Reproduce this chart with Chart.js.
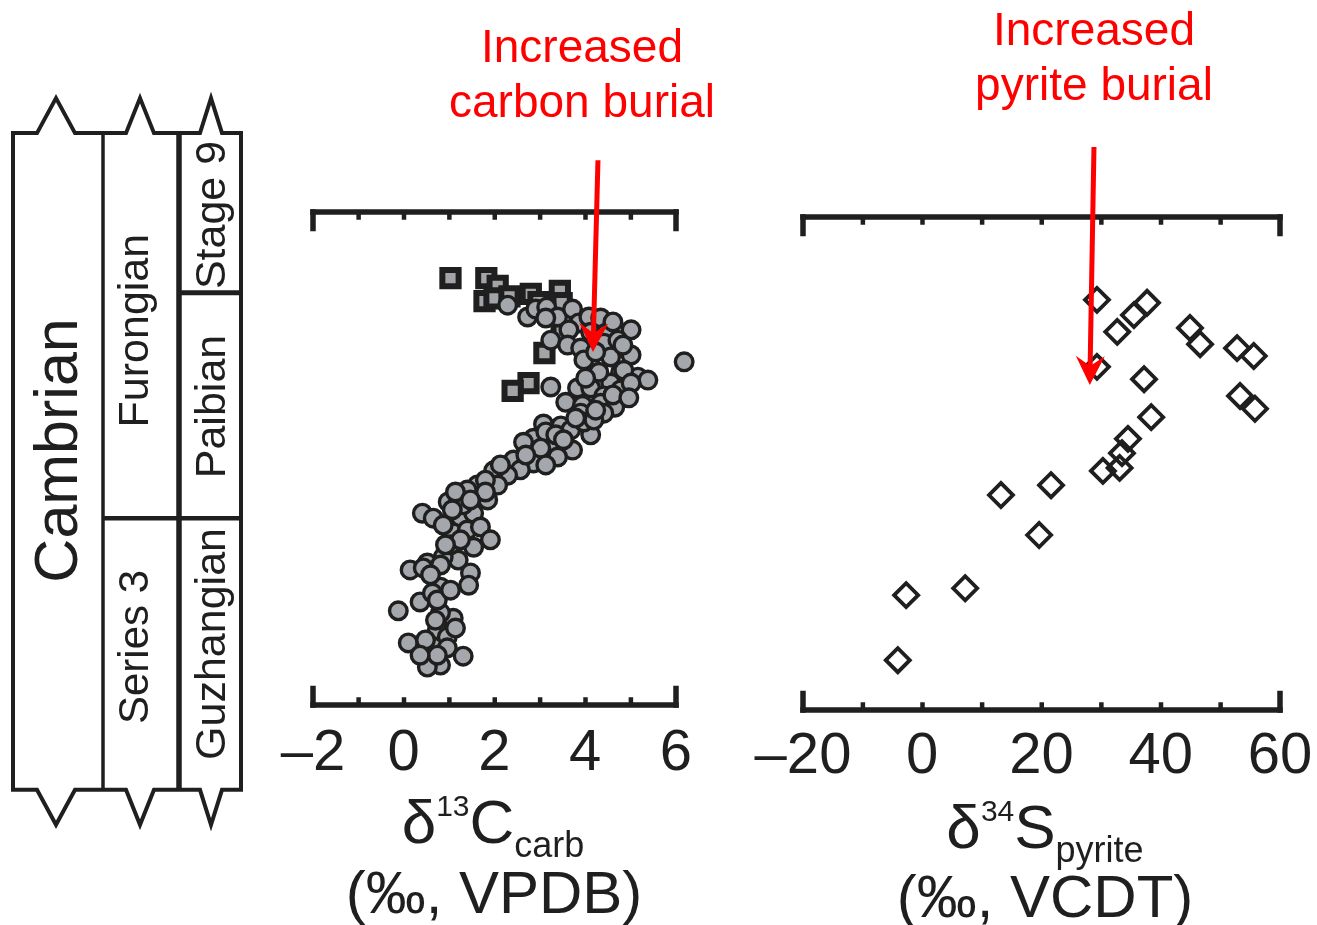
<!DOCTYPE html>
<html>
<head>
<meta charset="utf-8">
<title>Cambrian δ13C and δ34S</title>
<script src="https://cdn.jsdelivr.net/npm/chart.js@4.4.0/dist/chart.umd.min.js"></script>
<style>
  html, body { margin: 0; padding: 0; background: #ffffff; }
  #wrap { position: relative; width: 1317px; height: 925px; overflow: hidden; background: #ffffff; }
  #wrap canvas { position: absolute; left: 0; top: 0; }
</style>
</head>
<body>
<div id="wrap">
  <canvas id="carbonChart" width="1317" height="925"></canvas>
  <canvas id="sulfurChart" width="1317" height="925"></canvas>
</div>
<script>
// ---- Data (stratigraphic level: 0 = base of plotted section, 100 = top of plotted section) ----

// δ13C carbonate, circles
const carbonX = [2.29,2.73,2.91,3.15,3.39,3.72,3.86,4.08,4.34,5.01,
                 4.12,4.45,3.64,3.24,3.61,3.90,4.41,4.72,5.01,4.56,
                 3.97,4.23,6.18,4.78,4.56,5.16,5.38,4.85,3.24,3.83,
                 4.12,4.41,4.78,5.01,3.57,3.94,4.34,4.65,3.90,4.41,
                 3.08,3.46,3.68,4.12,3.97,4.19,2.86,2.64,3.35,3.72,
                 2.95,3.39,2.42,2.86,2.57,2.29,1.98,1.62,1.40,2.07,
                 1.85,0.98,0.41,0.65,1.25,1.54,1.09,1.40,1.69,1.91,
                 1.54,1.20,0.87,0.52,0.14,0.43,0.81,1.47,1.43,0.81,
                 0.36,0.63,1.09,0.81,-0.12,0.74,0.96,0.10,0.65,0.96,
                 1.31,0.59,0.81,0.52,0.74,1.03,1.31,1.14,1.80,3.13,
                 3.13,4.61,4.83,4.30,4.01,4.61,4.96,4.23,3.79,3.35,
                 3.02,3.52,3.13,2.69,2.13,1.80,1.47,1.07,0.87,1.25,
                 0.92,0.59,1.03,0.70,0.48,1.14,0.74,0.36];
const carbonY = [81.1,78.7,80.3,80.7,78.7,80.3,77.5,78.7,78.5,76.1,
                 75.6,75.4,76.1,74.0,73.0,72.4,73.4,74.0,71.0,70.6,
                 70.0,71.6,69.6,67.5,65.3,66.5,65.9,67.9,64.5,64.3,
                 64.3,62.7,63.9,65.3,61.4,60.8,61.2,60.4,59.2,59.2,
                 57.0,56.6,55.8,54.8,57.4,57.8,54.1,53.3,52.7,51.7,
                 49.7,50.3,49.7,49.1,47.7,46.6,47.5,44.6,43.6,44.6,
                 41.6,41.2,38.9,37.9,38.1,38.9,34.9,35.5,36.1,33.5,
                 32.0,29.4,30.0,28.8,27.4,27.8,28.4,26.8,24.3,23.9,
                 20.9,22.7,17.6,18.7,19.1,15.2,13.8,12.6,11.8,11.6,
                 9.9,9.1,8.1,7.7,21.3,32.5,40.6,43.2,45.6,55.4,
                 78.5,77.7,73.0,67.5,66.3,62.9,62.3,59.8,58.2,54.8,
                 52.1,53.8,48.7,50.7,48.7,43.2,41.6,39.6,36.5,33.5,
                 32.5,26.4,23.3,17.2,13.2,15.6,10.1,10.1];

// δ13C carbonate, squares (second section)
const carbonSqX = [1.03,1.82,2.07,1.78,2.00,2.33,2.80,2.97,3.44,3.48,3.48,3.10,2.75,2.40];
const carbonSqY = [86.6,86.6,85.0,81.9,82.5,82.9,83.4,81.7,84.0,81.5,75.6,71.4,65.3,63.7];

// δ34S pyrite, diamonds
const sulfurX = [29.3,32.7,35.5,37.7,44.9,46.6,52.8,55.6,29.3,37.2,53.3,55.8,
                 38.4,34.5,33.5,33.1,30.3,21.6,13.2,19.6,7.2,-2.7,-4.1];
const sulfurY = [83.2,76.7,80.1,82.6,77.5,74.2,73.4,71.8,69.6,67.1,63.7,61.1,
                 59.4,55.0,52.1,49.1,48.5,45.6,43.6,35.5,24.7,23.3,10.1];

// Axis tick labels
const carbonTicks = [-2, 0, 2, 4, 6];
const sulfurTicks = [-20, 0, 20, 40, 60];

// Chronostratigraphic boundaries on the same level scale
const systemTop = 116.0, systemBase = -17.2;
const stage9Base = 83.6;       // Stage 9 / Paibian
const furongianBase = 37.9;    // Furongian / Series 3, Paibian / Guzhangian

// Arrow annotations (value coordinates)
const carbonArrow = { x0: 4.28, y0: 110.5, x1: 4.17, y1: 71.6 };
const sulfurArrow = { x0: 28.8, y0: 114.2, x1: 28.1, y1: 65.9 };

// ---- Drawing helpers ----
const FONT = '"Liberation Sans", Arial, Helvetica, sans-serif';
const INK = '#1f1f1f';
const RED = '#ff0000';

Chart.defaults.font.family = FONT;

function fmtTick(v) {
  return v < 0 ? '\u2013' + Math.abs(v) : String(v);
}

function drawBracketAxes(chart, o) {
  const ctx = chart.ctx, x = chart.scales.x, a = chart.chartArea;
  const xl = x.getPixelForValue(x.min), xr = x.getPixelForValue(x.max);
  const lw = 5.5, yt = a.top, yb = a.bottom;
  ctx.save();
  ctx.fillStyle = INK;
  // top bracket, ticks pointing down
  ctx.fillRect(xl - lw / 2, yt - lw / 2, xr - xl + lw, lw);
  ctx.fillRect(xl - lw / 2, yt - lw / 2, lw, o.cap);
  ctx.fillRect(xr - lw / 2, yt - lw / 2, lw, o.cap);
  // bottom bracket, ticks pointing up
  ctx.fillRect(xl - lw / 2, yb - lw / 2, xr - xl + lw, lw);
  ctx.fillRect(xl - lw / 2, yb + lw / 2 - o.cap, lw, o.cap);
  ctx.fillRect(xr - lw / 2, yb + lw / 2 - o.cap, lw, o.cap);
  for (let v = x.min + o.minor; v < x.max - 1e-9; v += o.minor) {
    const px = x.getPixelForValue(v);
    ctx.fillRect(px - 2, yt, 4.5, lw / 2 + 5);
    ctx.fillRect(px - 2, yb - lw / 2 - 5, 4.5, lw / 2 + 5);
  }
  ctx.font = '58px ' + FONT;
  ctx.textAlign = 'center';
  ctx.textBaseline = 'alphabetic';
  o.ticks.forEach(v => ctx.fillText(fmtTick(v), x.getPixelForValue(v), yb + o.labelDy));
  ctx.restore();
}

function drawRich(ctx, parts, cx) {
  let total = 0;
  parts.forEach(p => {
    ctx.font = p.size + 'px ' + FONT;
    p.w = ctx.measureText(p.t).width;
    total += p.w + (p.gap || 0);
  });
  let x = cx - total / 2;
  ctx.textAlign = 'left';
  ctx.textBaseline = 'alphabetic';
  parts.forEach(p => {
    ctx.font = p.size + 'px ' + FONT;
    ctx.fillText(p.t, x, p.base);
    x += p.w + (p.gap || 0);
  });
}

function drawArrow(chart, arr) {
  const ctx = chart.ctx, sx = chart.scales.x, sy = chart.scales.y;
  const x0 = sx.getPixelForValue(arr.x0), y0 = sy.getPixelForValue(arr.y0);
  const x1 = sx.getPixelForValue(arr.x1), y1 = sy.getPixelForValue(arr.y1);
  const ang = Math.atan2(y1 - y0, x1 - x0);
  const ux = Math.cos(ang), uy = Math.sin(ang), nx = -uy, ny = ux;
  const L = 29, N = 19, W = 14.5;
  const bx = x1 - ux * N, by = y1 - uy * N;
  ctx.save();
  ctx.strokeStyle = RED;
  ctx.lineWidth = 5;
  ctx.beginPath();
  ctx.moveTo(x0, y0);
  ctx.lineTo(bx, by);
  ctx.stroke();
  ctx.fillStyle = RED;
  ctx.beginPath();
  ctx.moveTo(x1, y1);
  ctx.lineTo(x1 - ux * L + nx * W, y1 - uy * L + ny * W);
  ctx.lineTo(bx, by);
  ctx.lineTo(x1 - ux * L - nx * W, y1 - uy * L - ny * W);
  ctx.closePath();
  ctx.fill();
  ctx.restore();
}

function drawRedText(ctx, lines, cx) {
  ctx.save();
  ctx.fillStyle = RED;
  ctx.font = '46px ' + FONT;
  ctx.textAlign = 'center';
  ctx.textBaseline = 'alphabetic';
  lines.forEach(l => ctx.fillText(l.t, cx, l.base));
  ctx.restore();
}

// Stratigraphic column drawn against the carbon chart's level scale
function drawColumn(chart) {
  const ctx = chart.ctx, sy = chart.scales.y;
  const top = sy.getPixelForValue(systemTop);
  const bot = sy.getPixelForValue(systemBase);
  const yStage9 = sy.getPixelForValue(stage9Base);
  const yFur = sy.getPixelForValue(furongianBase);
  const L = 13, D1 = 103, D2 = 179, R = 241, H = 35;
  const hats = [[56, 19], [140, 14], [211, 11]];
  ctx.save();
  ctx.strokeStyle = INK;
  ctx.lineJoin = 'miter';
  ctx.lineWidth = 4;
  ctx.beginPath();
  ctx.moveTo(L, top);
  hats.forEach(([c, w]) => { ctx.lineTo(c - w, top); ctx.lineTo(c, top - H); ctx.lineTo(c + w, top); });
  ctx.lineTo(R, top);
  ctx.lineTo(R, bot);
  hats.slice().reverse().forEach(([c, w]) => { ctx.lineTo(c + w, bot); ctx.lineTo(c, bot + H); ctx.lineTo(c - w, bot); });
  ctx.lineTo(L, bot);
  ctx.closePath();
  ctx.stroke();

  ctx.lineWidth = 3.5;
  ctx.beginPath(); ctx.moveTo(D1, top); ctx.lineTo(D1, bot); ctx.stroke();
  ctx.lineWidth = 5.5;
  ctx.beginPath(); ctx.moveTo(D2, top); ctx.lineTo(D2, bot); ctx.stroke();
  ctx.lineWidth = 4.5;
  ctx.beginPath(); ctx.moveTo(D1, yFur); ctx.lineTo(R, yFur); ctx.stroke();
  ctx.lineWidth = 5;
  ctx.beginPath(); ctx.moveTo(D2, yStage9); ctx.lineTo(R, yStage9); ctx.stroke();

  const label = (t, size, baseX, cy) => {
    ctx.save();
    ctx.translate(baseX, cy);
    ctx.rotate(-Math.PI / 2);
    ctx.font = size + 'px ' + FONT;
    ctx.fillStyle = INK;
    ctx.textAlign = 'center';
    ctx.textBaseline = 'alphabetic';
    ctx.fillText(t, 0, 0);
    ctx.restore();
  };
  label('Cambrian', 61, 77, (top + bot) / 2 - 11);
  label('Furongian', 43, 148, (top + yFur) / 2 + 5);
  label('Series 3', 42, 148, (yFur + bot) / 2 - 7);
  label('Stage 9', 43, 225, (top + yStage9) / 2 + 2);
  label('Paibian', 43, 225, (yStage9 + yFur) / 2 + 1);
  label('Guzhangian', 43, 225, (yFur + bot) / 2 - 10);
  ctx.restore();
}

const carbonDecor = {
  id: 'carbonDecor',
  afterDraw(chart) {
    const ctx = chart.ctx;
    drawColumn(chart);
    drawBracketAxes(chart, { cap: 22, minor: 1, ticks: carbonTicks, labelDy: 65 });
    ctx.save();
    ctx.fillStyle = INK;
    drawRich(ctx, [
      { t: '\u03b4', size: 62, base: 843 },
      { t: '13', size: 30, base: 816 },
      { t: 'C', size: 62, base: 843 },
      { t: 'carb', size: 36, base: 857 }
    ], 493);
    drawRich(ctx, [{ t: '(\u2030, VPDB)', size: 60, base: 913 }], 494);
    ctx.restore();
    drawRedText(ctx, [{ t: 'Increased', base: 62 }, { t: 'carbon burial', base: 117 }], 582);
    drawArrow(chart, carbonArrow);
  }
};

const sulfurDecor = {
  id: 'sulfurDecor',
  afterDraw(chart) {
    const ctx = chart.ctx;
    drawBracketAxes(chart, { cap: 22, minor: 10, ticks: sulfurTicks, labelDy: 63 });
    ctx.save();
    ctx.fillStyle = INK;
    drawRich(ctx, [
      { t: '\u03b4', size: 62, base: 848 },
      { t: '34', size: 30, base: 821 },
      { t: 'S', size: 62, base: 848 },
      { t: 'pyrite', size: 36, base: 862 }
    ], 1045);
    drawRich(ctx, [{ t: '(\u2030, VCDT)', size: 60, base: 917 }], 1045);
    ctx.restore();
    drawRedText(ctx, [{ t: 'Increased', base: 45 }, { t: 'pyrite burial', base: 100 }], 1094);
    drawArrow(chart, sulfurArrow);
  }
};

const toPoints = (xs, ys) => xs.map((v, i) => ({ x: v, y: ys[i] }));

function baseOptions(pad, xMin, xMax) {
  return {
    responsive: false,
    animation: false,
    devicePixelRatio: 1,
    events: [],
    layout: { padding: pad },
    scales: {
      x: { type: 'linear', min: xMin, max: xMax, display: false },
      y: { type: 'linear', min: 0, max: 100, display: false }
    },
    plugins: { legend: { display: false }, tooltip: { enabled: false } }
  };
}

new Chart(document.getElementById('carbonChart'), {
  type: 'scatter',
  data: {
    datasets: [
      {
        label: 'δ13C carb (circles)',
        data: toPoints(carbonX, carbonY),
        pointStyle: 'circle',
        pointRadius: 8.8,
        pointBorderWidth: 3.4,
        backgroundColor: '#a4a7ab',
        borderColor: INK,
        clip: false
      },
      {
        label: 'δ13C carb (squares)',
        data: toPoints(carbonSqX, carbonSqY),
        pointStyle: 'rect',
        pointRadius: 11.5,
        pointBorderWidth: 6,
        backgroundColor: '#a2a4a8',
        borderColor: INK,
        clip: false
      }
    ]
  },
  options: baseOptions({ left: 313, right: 1317 - 676, top: 212, bottom: 925 - 705 }, -2, 6),
  plugins: [carbonDecor]
});

new Chart(document.getElementById('sulfurChart'), {
  type: 'scatter',
  data: {
    datasets: [
      {
        label: 'δ34S pyrite',
        data: toPoints(sulfurX, sulfurY),
        pointStyle: 'rectRot',
        pointRadius: 12,
        pointBorderWidth: 3.8,
        backgroundColor: 'rgba(255,255,255,0)',
        borderColor: INK,
        clip: false
      }
    ]
  },
  options: baseOptions({ left: 803, right: 1317 - 1280, top: 217, bottom: 925 - 710 }, -20, 60),
  plugins: [sulfurDecor]
});
</script>
</body>
</html>
